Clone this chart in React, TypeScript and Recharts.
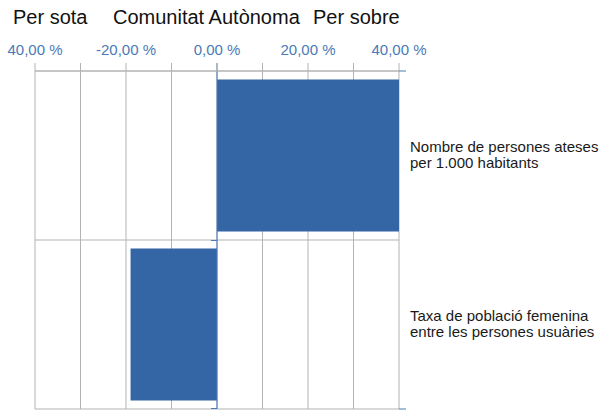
import React from 'react';
import {
  BarChart,
  Bar,
  XAxis,
  YAxis,
  CartesianGrid,
  ReferenceLine,
} from 'recharts';

// category names (full) and how they are broken on the right side
const categories = [
  'Nombre de persones ateses per 1.000 habitants',
  'Taxa de població femenina entre les persones usuàries',
];
const categoryLines = [
  ['Nombre de persones ateses', 'per 1.000 habitants'],
  ['Taxa de població femenina', 'entre les persones usuàries'],
];
// deviation from the autonomous community, in %
const values = [40, -19];

const xTicks = [-40, -30, -20, -10, 0, 10, 20, 30, 40];
const xTickLabels = ['40,00 %', '', '-20,00 %', '', '0,00 %', '', '20,00 %', '', '40,00 %'];
const boundaryTicks = [0, 1, 2];

const headerLabels = ['Per sota', 'Comunitat Autònoma', 'Per sobre'];

const FONT = '"Liberation Sans", Arial, sans-serif';
const BAR_BLUE = '#3465a4';
const AXIS_BLUE = '#4a7ab8';
const GRID = '#b3b3b3';

const chartData = categories.map((name, i) => ({ name, value: values[i] }));

const CategoryTick = (props: any) => {
  const { x, y, payload } = props;
  const idx = categories.indexOf(payload.value);
  const lines = categoryLines[idx] ?? [payload.value];
  return (
    <g>
      {lines.map((line, i) => (
        <text
          key={i}
          x={x}
          y={y - 4 + i * 16.5}
          fill="#1a1a1a"
          fontSize={15}
          fontFamily={FONT}
          textAnchor="start"
        >
          {line}
        </text>
      ))}
    </g>
  );
};

const EmptyTick = () => <g />;

// horizontal grid lines sit on the category boundaries
const boundaryLines = ({ offset }: any) =>
  boundaryTicks.map(i => offset.top + (offset.height * i) / categories.length);

// blue category axis crossing at 0, with its small ticks on the left
const ZeroAxis = (props: any) => {
  const { x1, y1, y2 } = props;
  const top = Math.min(y1, y2);
  const bottom = Math.max(y1, y2);
  const mid = Math.round((top + bottom) / 2) + 0.5;
  return (
    <g stroke={AXIS_BLUE} strokeWidth={1}>
      <line x1={x1} y1={top - 8} x2={x1} y2={bottom} />
      <line x1={x1 - 6} y1={mid} x2={x1} y2={mid} />
      <line x1={x1 - 6} y1={bottom - 0.5} x2={x1} y2={bottom - 0.5} />
    </g>
  );
};

const App: React.FC = () => {
  return (
    <div style={{ position: 'absolute', left: 0, top: 0, width: 605, height: 410, background: '#fff' }}>
      <svg
        width={605}
        height={40}
        style={{ position: 'absolute', left: 0, top: 0 }}
      >
        {headerLabels.map((t, i) => (
          <text
            key={t}
            x={[13, 113, 313][i]}
            y={24}
            fontSize={20}
            fontFamily={FONT}
            fill="#111"
          >
            {t}
          </text>
        ))}
      </svg>
      <BarChart
        width={605}
        height={410}
        data={chartData}
        layout="vertical"
        barCategoryGap="5%"
        margin={{ top: 31, right: 0, bottom: 1, left: 35 }}
        style={{ fontFamily: FONT }}
      >
        <CartesianGrid
          stroke={GRID}
          horizontal
          vertical
          horizontalCoordinatesGenerator={boundaryLines}
        />
        <XAxis
          type="number"
          orientation="top"
          domain={[-40, 40]}
          ticks={xTicks}
          interval={0}
          allowDataOverflow
          height={40}
          tickSize={8}
          tickMargin={8}
          stroke={GRID}
          axisLine={{ stroke: GRID }}
          tickLine={{ stroke: GRID }}
          tick={{ fill: AXIS_BLUE, fontSize: 15, fontFamily: FONT }}
          tickFormatter={(v: number) => xTickLabels[xTicks.indexOf(v)] ?? ''}
        />
        <YAxis
          yAxisId="bounds"
          type="number"
          orientation="right"
          domain={[0, 2]}
          ticks={boundaryTicks}
          interval={0}
          width={1}
          axisLine={false}
          tickSize={7}
          tickLine={{ stroke: AXIS_BLUE }}
          tick={<EmptyTick />}
        />
        <YAxis
          yAxisId="names"
          type="category"
          dataKey="name"
          orientation="right"
          width={205}
          axisLine={false}
          tickLine={false}
          tickSize={6}
          tickMargin={4}
          tick={<CategoryTick />}
        />
        <Bar yAxisId="names" dataKey="value" fill={BAR_BLUE} isAnimationActive={false} />
        <ReferenceLine yAxisId="bounds" x={0} stroke={AXIS_BLUE} shape={<ZeroAxis />} />
      </BarChart>
    </div>
  );
};

export default App;
